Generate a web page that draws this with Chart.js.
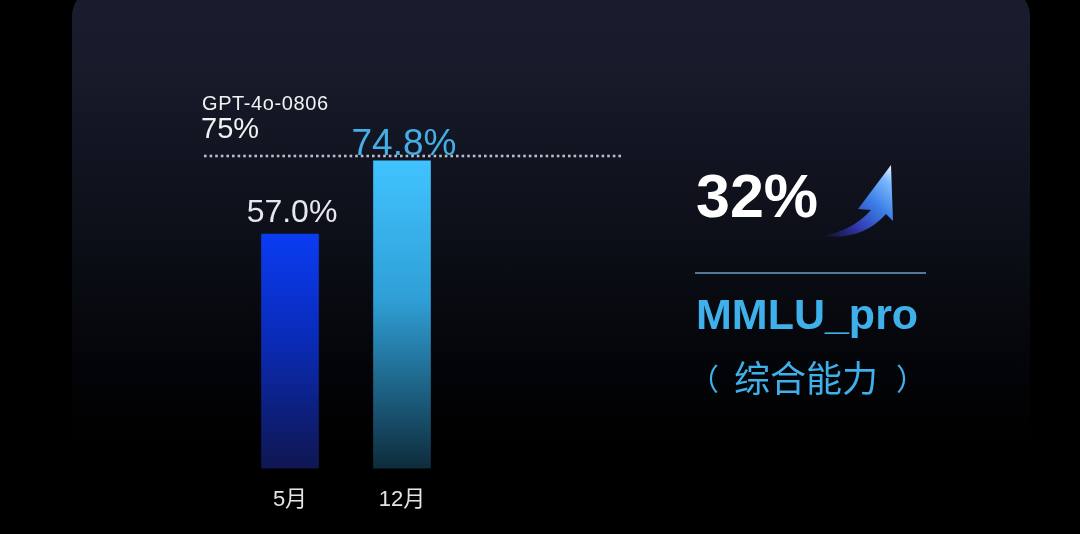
<!DOCTYPE html>
<html>
<head>
<meta charset="utf-8">
<script src="https://cdn.jsdelivr.net/npm/chart.js@4.4.1/dist/chart.umd.min.js"></script>
<style>
  html, body { margin: 0; padding: 0; background: #000; }
  #wrap { position: relative; width: 1080px; height: 534px; overflow: hidden; background: #000; }
  #card {
    position: absolute; left: 72px; top: -12px; width: 958px; height: 600px;
    border-radius: 28px;
    background: linear-gradient(180deg, #1a1d2e 0%, #161a29 15%, #0d1019 40%, #040509 62%, #000 76%);
  }
  canvas { position: absolute; left: 0; top: 0; }
</style>
</head>
<body>
<div id="wrap">
  <div id="card"></div>
  <canvas id="mainChart" width="1080" height="534"></canvas>
</div>
<script>
// --- DATOS ---
const months = ['5月', '12月'];
const scores = [57.0, 74.8];
const scoreLabels = ['57.0%', '74.8%'];
const refModel = 'GPT-4o-0806';
const refValue = 75;
const growthText = '32%';
const benchName = 'MMLU_pro';
const benchNote = ['（', '综合能力', '）'];

const LATIN = '"Liberation Sans", Arial, "Noto Sans CJK SC", sans-serif';
const CJK = '"Noto Sans CJK SC", "Liberation Sans", sans-serif';

// colores de barras (arriba -> abajo)
const barTop = ['#0a3cf2', '#41c3ff'];
const barMid = ['#0a2bb8', '#2f9fd6'];
const barBottom = ['#0f1650', '#0e2c3c'];

function barGradient(ctx) {
    const chart = ctx.chart;
    const area = chart.chartArea;
    if (!area) return barTop[ctx.dataIndex];
    const top = chart.scales.y.getPixelForValue(ctx.raw);
    const g = chart.ctx.createLinearGradient(0, top, 0, area.bottom);
    g.addColorStop(0, barTop[ctx.dataIndex]);
    g.addColorStop(0.45, barMid[ctx.dataIndex]);
    g.addColorStop(1, barBottom[ctx.dataIndex]);
    return g;
}

// --- ANOTACIONES ---
const annotations = {
    id: 'annotations',
    afterDatasetsDraw(chart) {
        const c = chart.ctx;
        const y = chart.scales.y;
        const meta = chart.getDatasetMeta(0);
        c.save();

        // linea punteada de referencia
        const ly = y.getPixelForValue(refValue) - 4;
        c.fillStyle = 'rgba(215,220,230,0.85)';
        for (let x = 204; x < 621; x += 5.6) {
            c.fillRect(x, ly - 1.2, 2.6, 2.6);
        }

        // texto de referencia
        c.textAlign = 'left';
        c.textBaseline = 'alphabetic';
        c.fillStyle = '#f2f2f2';
        c.font = '20px ' + LATIN;
        c.letterSpacing = '0.6px';
        c.fillText(refModel, 202, 110);
        c.letterSpacing = '0px';
        c.font = '29px ' + LATIN;
        c.fillText(refValue + '%', 201, 138);

        // valores sobre las barras
        c.textAlign = 'center';
        meta.data.forEach((bar, i) => {
            if (i === 0) {
                c.font = '32px ' + LATIN;
                c.fillStyle = '#e6e8ee';
                c.fillText(scoreLabels[i], bar.x + 2, bar.y - 12);
            } else {
                c.font = '37px ' + LATIN;
                c.fillStyle = '#45aee6';
                c.fillText(scoreLabels[i], bar.x + 2, bar.y - 6);
            }
        });

        // panel derecho
        c.textAlign = 'left';
        c.fillStyle = '#ffffff';
        c.font = 'bold 61px ' + LATIN;
        c.fillText(growthText, 696, 217);

        // flecha curva
        const ag = c.createLinearGradient(825, 236, 892, 166);
        ag.addColorStop(0, 'rgba(40,40,140,0.2)');
        ag.addColorStop(0.3, '#3338b0');
        ag.addColorStop(0.6, '#3b7fe6');
        ag.addColorStop(0.85, '#7ab8ff');
        ag.addColorStop(1, '#eef5ff');
        c.fillStyle = ag;
        c.beginPath();
        c.moveTo(822, 236);
        c.quadraticCurveTo(852, 231, 871, 210);
        c.lineTo(858, 209);
        c.lineTo(891, 165);
        c.lineTo(893, 221);
        c.lineTo(886, 214);
        c.quadraticCurveTo(862, 241, 822, 236);
        c.closePath();
        c.fill();

        // separador
        c.strokeStyle = '#6f9cc4';
        c.lineWidth = 1.5;
        c.beginPath();
        c.moveTo(695, 273);
        c.lineTo(926, 273);
        c.stroke();

        c.fillStyle = '#3fb0ea';
        c.font = 'bold 43px ' + LATIN;
        c.fillText(benchName, 696, 329);

        c.font = '36px ' + CJK;
        c.textAlign = 'center';
        c.fillText(benchNote[1], 806, 392);
        c.font = '30px ' + CJK;
        c.textAlign = 'left';
        c.fillText(benchNote[0], 689, 390);
        c.textAlign = 'right';
        c.fillText(benchNote[2], 926, 390);

        c.restore();
    }
};

new Chart(document.getElementById('mainChart'), {
    type: 'bar',
    data: {
        labels: months,
        datasets: [{
            data: scores,
            backgroundColor: barGradient,
            borderWidth: 0,
            barThickness: 57
        }]
    },
    options: {
        responsive: false,
        animation: false,
        layout: { padding: { left: 234, right: 622, top: 57, bottom: 3 } },
        plugins: { legend: { display: false }, tooltip: { enabled: false } },
        scales: {
            y: { display: false, min: 0, max: 100 },
            x: {
                grid: { display: false, drawTicks: false },
                border: { display: false },
                ticks: {
                    color: '#e4e4e4',
                    padding: 18,
                    font: { family: LATIN, size: 22 }
                }
            }
        }
    },
    plugins: [annotations]
});
</script>
</body>
</html>
